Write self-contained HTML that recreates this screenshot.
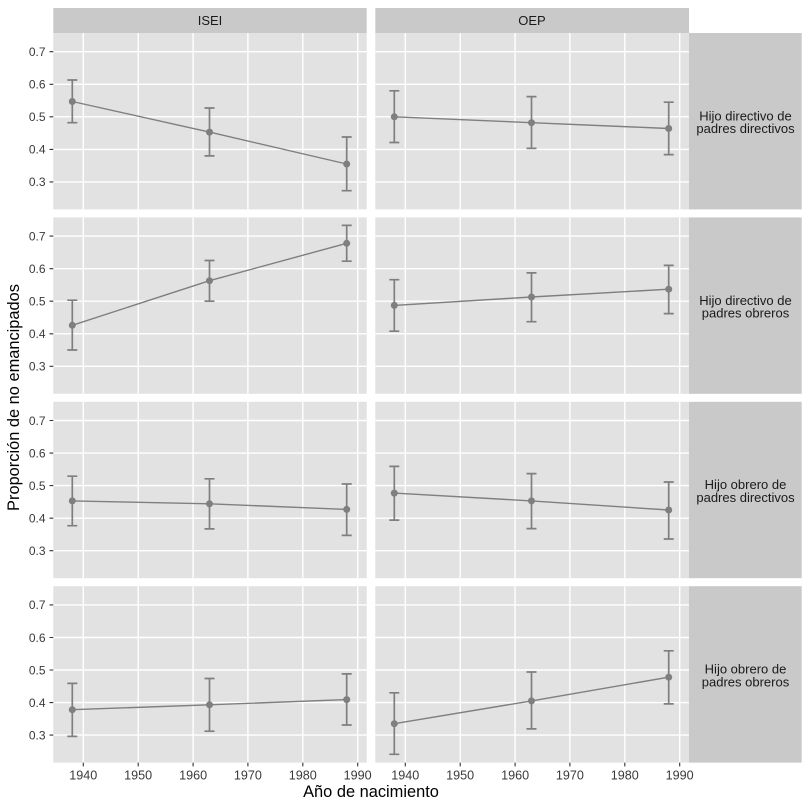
<!DOCTYPE html>
<html>
<head>
<meta charset="utf-8">
<style>
html,body{margin:0;padding:0;background:#fff;}
svg{display:block;}
text{font-family:"Liberation Sans",Arial,sans-serif;}
</style>
</head>
<body>
<svg width="809" height="809" viewBox="0 0 809 809" xmlns="http://www.w3.org/2000/svg">
<rect x="0" y="0" width="809" height="809" fill="#fff"/>

<!-- Top strips -->
<rect x="53.3" y="8" width="313.4" height="25" fill="#c9c9c9"/>
<rect x="375.3" y="8" width="313.7" height="25" fill="#c9c9c9"/>
<text x="210" y="25" font-size="13" fill="#1a1a1a" text-anchor="middle">ISEI</text>
<text x="532" y="25" font-size="13" fill="#1a1a1a" text-anchor="middle">OEP</text>

<!-- Right strips -->
<rect x="689" y="33" width="112.7" height="176.4" fill="#c9c9c9"/>
<rect x="689" y="217.4" width="112.7" height="176.4" fill="#c9c9c9"/>
<rect x="689" y="401.8" width="112.7" height="176.4" fill="#c9c9c9"/>
<rect x="689" y="586.2" width="112.7" height="176.4" fill="#c9c9c9"/>
<g font-size="13" fill="#1a1a1a" text-anchor="middle">
<text x="745.5" y="120.4">Hijo directivo de</text>
<text x="745.5" y="133.2">padres directivos</text>
<text x="745.5" y="304.8">Hijo directivo de</text>
<text x="745.5" y="317.6">padres obreros</text>
<text x="745.5" y="489.2">Hijo obrero de</text>
<text x="745.5" y="502.0">padres directivos</text>
<text x="745.5" y="673.6">Hijo obrero de</text>
<text x="745.5" y="686.4">padres obreros</text>
</g>

<!-- Panels backgrounds -->
<g fill="#e2e2e2">
<rect x="53.3" y="33" width="313.4" height="176.4"/>
<rect x="375.3" y="33" width="313.7" height="176.4"/>
<rect x="53.3" y="217.4" width="313.4" height="176.4"/>
<rect x="375.3" y="217.4" width="313.7" height="176.4"/>
<rect x="53.3" y="401.8" width="313.4" height="176.4"/>
<rect x="375.3" y="401.8" width="313.7" height="176.4"/>
<rect x="53.3" y="586.2" width="313.4" height="176.4"/>
<rect x="375.3" y="586.2" width="313.7" height="176.4"/>
</g>

<!-- Grid lines -->
<g stroke="#fff" stroke-width="1.4">
<path d="M83.3 33V209.4M138.2 33V209.4M193.1 33V209.4M247.9 33V209.4M302.8 33V209.4M357.7 33V209.4"/>
<path d="M83.3 217.4V393.8M138.2 217.4V393.8M193.1 217.4V393.8M247.9 217.4V393.8M302.8 217.4V393.8M357.7 217.4V393.8"/>
<path d="M83.3 401.8V578.2M138.2 401.8V578.2M193.1 401.8V578.2M247.9 401.8V578.2M302.8 401.8V578.2M357.7 401.8V578.2"/>
<path d="M83.3 586.2V762.6M138.2 586.2V762.6M193.1 586.2V762.6M247.9 586.2V762.6M302.8 586.2V762.6M357.7 586.2V762.6"/>
<path d="M405.3 33V209.4M460.2 33V209.4M515.1 33V209.4M569.9 33V209.4M624.8 33V209.4M679.7 33V209.4"/>
<path d="M405.3 217.4V393.8M460.2 217.4V393.8M515.1 217.4V393.8M569.9 217.4V393.8M624.8 217.4V393.8M679.7 217.4V393.8"/>
<path d="M405.3 401.8V578.2M460.2 401.8V578.2M515.1 401.8V578.2M569.9 401.8V578.2M624.8 401.8V578.2M679.7 401.8V578.2"/>
<path d="M405.3 586.2V762.6M460.2 586.2V762.6M515.1 586.2V762.6M569.9 586.2V762.6M624.8 586.2V762.6M679.7 586.2V762.6"/>
<path d="M53.3 51.7H366.7M53.3 84.3H366.7M53.3 116.8H366.7M53.3 149.4H366.7M53.3 181.9H366.7"/>
<path d="M375.3 51.7H689M375.3 84.3H689M375.3 116.8H689M375.3 149.4H689M375.3 181.9H689"/>
<path d="M53.3 236.1H366.7M53.3 268.7H366.7M53.3 301.2H366.7M53.3 333.8H366.7M53.3 366.3H366.7"/>
<path d="M375.3 236.1H689M375.3 268.7H689M375.3 301.2H689M375.3 333.8H689M375.3 366.3H689"/>
<path d="M53.3 420.5H366.7M53.3 453.1H366.7M53.3 485.6H366.7M53.3 518.2H366.7M53.3 550.7H366.7"/>
<path d="M375.3 420.5H689M375.3 453.1H689M375.3 485.6H689M375.3 518.2H689M375.3 550.7H689"/>
<path d="M53.3 604.9H366.7M53.3 637.5H366.7M53.3 670.0H366.7M53.3 702.6H366.7M53.3 735.1H366.7"/>
<path d="M375.3 604.9H689M375.3 637.5H689M375.3 670.0H689M375.3 702.6H689M375.3 735.1H689"/>
</g>

<!-- Data: lines -->
<g stroke="#7f7f7f" stroke-width="1.4" fill="none">
<polyline points="72.3,101.5 209.5,132.1 346.7,164.0"/>
<polyline points="394.3,116.8 531.5,122.7 668.7,128.5"/>
<polyline points="72.3,325.3 209.5,280.7 346.7,243.3"/>
<polyline points="394.3,305.4 531.5,297.0 668.7,289.2"/>
<polyline points="72.3,500.9 209.5,503.8 346.7,509.4"/>
<polyline points="394.3,493.1 531.5,500.9 668.7,510.0"/>
<polyline points="72.3,709.7 209.5,704.8 346.7,699.6"/>
<polyline points="394.3,723.7 531.5,700.9 668.7,677.2"/>
</g>

<!-- Error bars -->
<g stroke="#7f7f7f" stroke-width="1.7" fill="none">
<path d="M72.3 80.0V122.7M67.3 80.0H77.3M67.3 122.7H77.3"/>
<path d="M209.5 108.0V155.9M204.5 108.0H214.5M204.5 155.9H214.5"/>
<path d="M346.7 137.0V190.7M341.7 137.0H351.7M341.7 190.7H351.7"/>
<path d="M394.3 90.8V142.5M389.3 90.8H399.3M389.3 142.5H399.3"/>
<path d="M531.5 96.6V148.4M526.5 96.6H536.5M526.5 148.4H536.5"/>
<path d="M668.7 102.2V154.6M663.7 102.2H673.7M663.7 154.6H673.7"/>
<path d="M72.3 300.2V350.0M67.3 300.2H77.3M67.3 350.0H77.3"/>
<path d="M209.5 260.5V301.2M204.5 260.5H214.5M204.5 301.2H214.5"/>
<path d="M346.7 225.4V261.2M341.7 225.4H351.7M341.7 261.2H351.7"/>
<path d="M394.3 279.7V331.2M389.3 279.7H399.3M389.3 331.2H399.3"/>
<path d="M531.5 272.9V321.7M526.5 272.9H536.5M526.5 321.7H536.5"/>
<path d="M668.7 265.4V313.6M663.7 265.4H673.7M663.7 313.6H673.7"/>
<path d="M72.3 476.2V525.7M67.3 476.2H77.3M67.3 525.7H77.3"/>
<path d="M209.5 478.8V528.9M204.5 478.8H214.5M204.5 528.9H214.5"/>
<path d="M346.7 484.0V535.4M341.7 484.0H351.7M341.7 535.4H351.7"/>
<path d="M394.3 466.4V520.1M389.3 466.4H399.3M389.3 520.1H399.3"/>
<path d="M531.5 473.6V528.6M526.5 473.6H536.5M526.5 528.6H536.5"/>
<path d="M668.7 482.0V539.0M663.7 482.0H673.7M663.7 539.0H673.7"/>
<path d="M72.3 683.4V736.4M67.3 683.4H77.3M67.3 736.4H77.3"/>
<path d="M209.5 678.5V731.2M204.5 678.5H214.5M204.5 731.2H214.5"/>
<path d="M346.7 673.9V725.0M341.7 673.9H351.7M341.7 725.0H351.7"/>
<path d="M394.3 692.8V754.3M389.3 692.8H399.3M389.3 754.3H399.3"/>
<path d="M531.5 672.0V728.9M526.5 672.0H536.5M526.5 728.9H536.5"/>
<path d="M668.7 650.8V703.9M663.7 650.8H673.7M663.7 703.9H673.7"/>
</g>

<!-- Points -->
<g fill="#7f7f7f">
<circle cx="72.3" cy="101.5" r="3.5"/><circle cx="209.5" cy="132.1" r="3.5"/><circle cx="346.7" cy="164.0" r="3.5"/>
<circle cx="394.3" cy="116.8" r="3.5"/><circle cx="531.5" cy="122.7" r="3.5"/><circle cx="668.7" cy="128.5" r="3.5"/>
<circle cx="72.3" cy="325.3" r="3.5"/><circle cx="209.5" cy="280.7" r="3.5"/><circle cx="346.7" cy="243.3" r="3.5"/>
<circle cx="394.3" cy="305.4" r="3.5"/><circle cx="531.5" cy="297.0" r="3.5"/><circle cx="668.7" cy="289.2" r="3.5"/>
<circle cx="72.3" cy="500.9" r="3.5"/><circle cx="209.5" cy="503.8" r="3.5"/><circle cx="346.7" cy="509.4" r="3.5"/>
<circle cx="394.3" cy="493.1" r="3.5"/><circle cx="531.5" cy="500.9" r="3.5"/><circle cx="668.7" cy="510.0" r="3.5"/>
<circle cx="72.3" cy="709.7" r="3.5"/><circle cx="209.5" cy="704.8" r="3.5"/><circle cx="346.7" cy="699.6" r="3.5"/>
<circle cx="394.3" cy="723.7" r="3.5"/><circle cx="531.5" cy="700.9" r="3.5"/><circle cx="668.7" cy="677.2" r="3.5"/>
</g>

<!-- Axis ticks -->
<g stroke="#333" stroke-width="1.1">
<path d="M49.5 51.7H53.3M49.5 84.3H53.3M49.5 116.8H53.3M49.5 149.4H53.3M49.5 181.9H53.3"/>
<path d="M49.5 236.1H53.3M49.5 268.7H53.3M49.5 301.2H53.3M49.5 333.8H53.3M49.5 366.3H53.3"/>
<path d="M49.5 420.5H53.3M49.5 453.1H53.3M49.5 485.6H53.3M49.5 518.2H53.3M49.5 550.7H53.3"/>
<path d="M49.5 604.9H53.3M49.5 637.5H53.3M49.5 670.0H53.3M49.5 702.6H53.3M49.5 735.1H53.3"/>
<path d="M83.3 762.6V766.4M138.2 762.6V766.4M193.1 762.6V766.4M247.9 762.6V766.4M302.8 762.6V766.4M357.7 762.6V766.4"/>
<path d="M405.3 762.6V766.4M460.2 762.6V766.4M515.1 762.6V766.4M569.9 762.6V766.4M624.8 762.6V766.4M679.7 762.6V766.4"/>
</g>

<!-- Y tick labels -->
<g font-size="12" fill="#3a3a3a" text-anchor="end">
<text x="45.5" y="56.0">0.7</text><text x="45.5" y="88.6">0.6</text><text x="45.5" y="121.1">0.5</text><text x="45.5" y="153.7">0.4</text><text x="45.5" y="186.2">0.3</text>
<text x="45.5" y="240.4">0.7</text><text x="45.5" y="273.0">0.6</text><text x="45.5" y="305.5">0.5</text><text x="45.5" y="338.1">0.4</text><text x="45.5" y="370.6">0.3</text>
<text x="45.5" y="424.8">0.7</text><text x="45.5" y="457.4">0.6</text><text x="45.5" y="489.9">0.5</text><text x="45.5" y="522.5">0.4</text><text x="45.5" y="555.0">0.3</text>
<text x="45.5" y="609.2">0.7</text><text x="45.5" y="641.8">0.6</text><text x="45.5" y="674.3">0.5</text><text x="45.5" y="706.9">0.4</text><text x="45.5" y="739.4">0.3</text>
</g>

<!-- X tick labels -->
<g font-size="12.6" fill="#3a3a3a" text-anchor="middle">
<text x="83.3" y="779.5">1940</text><text x="138.2" y="779.5">1950</text><text x="193.1" y="779.5">1960</text><text x="247.9" y="779.5">1970</text><text x="302.8" y="779.5">1980</text><text x="357.7" y="779.5">1990</text>
<text x="405.3" y="779.5">1940</text><text x="460.2" y="779.5">1950</text><text x="515.1" y="779.5">1960</text><text x="569.9" y="779.5">1970</text><text x="624.8" y="779.5">1980</text><text x="679.7" y="779.5">1990</text>
</g>

<!-- Axis titles -->
<text x="371" y="797" font-size="16.4" fill="#000" text-anchor="middle">Año de nacimiento</text>
<text x="0" y="0" font-size="16.4" fill="#000" text-anchor="middle" transform="translate(18.8,397.5) rotate(-90)">Proporción de no emancipados</text>
</svg>
</body>
</html>
